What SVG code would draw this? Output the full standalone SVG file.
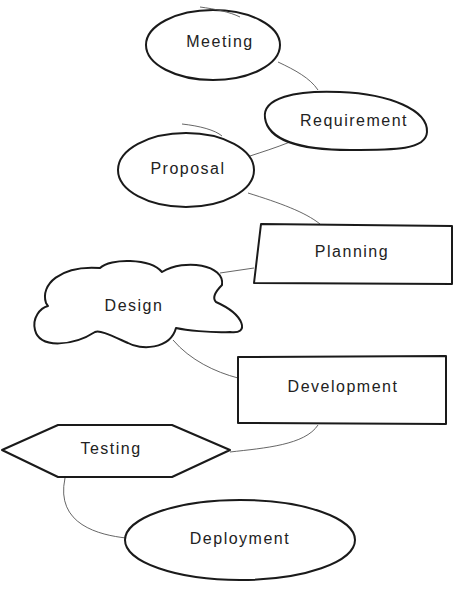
<svg xmlns="http://www.w3.org/2000/svg" width="460" height="591" viewBox="0 0 460 591">
<style>
.shape{fill:#fff;stroke:#1a1a1a;stroke-width:2;stroke-linejoin:round}
.conn{fill:none;stroke:#555;stroke-width:0.9}
.lbl{font-family:"Liberation Sans",Arial,sans-serif;font-size:16px;fill:#222;text-anchor:middle;dominant-baseline:middle;letter-spacing:1.5px}
</style>
<rect width="460" height="591" fill="#fff"/>
<g id="connectors">
<path class="conn" d="M278,62 C295,70 310,78 318,90"/>
<path class="conn" d="M290,142 C275,148 262,152 250,156"/>
<path class="conn" d="M248,193 C280,203 305,212 320,224"/>
<path class="conn" d="M254,268 L220,273"/>
<path class="conn" d="M173,340 C190,360 215,372 238,378"/>
<path class="conn" d="M318,425 C305,445 265,448 230,452"/>
<path class="conn" d="M65,478 C55,525 100,535 126,538"/>
</g>
<g id="meeting">
<ellipse class="shape" cx="213" cy="45" rx="67" ry="35"/>
<path class="conn" d="M200,7 C215,9 230,12 240,17"/>
<text class="lbl" x="220" y="43">Meeting</text>
</g>
<g id="requirement">
<path class="shape" d="M265,118 C262,98 295,90 340,92 C390,94 428,110 427,132 C426,150 395,150 350,150 C300,150 268,140 265,118 Z"/>
<text class="lbl" x="354" y="122">Requirement</text>
</g>
<g id="proposal">
<ellipse class="shape" cx="186" cy="170" rx="68" ry="37"/>
<path class="conn" d="M182,124 C200,126 215,130 222,136"/>
<text class="lbl" x="188" y="170">Proposal</text>
</g>
<g id="planning">
<path class="shape" d="M261,224 L452,226 L452,284 L254,283 Z"/>
<text class="lbl" x="352" y="253">Planning</text>
</g>
<g id="design">
<path class="shape" d="M46,303 C40,285 60,265 100,268 C110,258 150,258 162,272 C185,258 225,265 222,285 C215,292 212,298 216,302 C245,315 250,335 230,332 C210,333 185,330 176,328 C170,350 140,350 128,343 C110,335 100,330 95,332 C75,345 40,350 35,330 C32,318 40,308 48,306 Z"/>
<text class="lbl" x="134" y="307">Design</text>
</g>
<g id="development">
<path class="shape" d="M238,357 L446,356 L446,424 L238,423 Z"/>
<text class="lbl" x="343" y="388">Development</text>
</g>
<g id="testing">
<path class="shape" d="M2,450 L58,425 L172,425 L230,450 L172,477 L58,477 Z"/>
<text class="lbl" x="111" y="450">Testing</text>
</g>
<g id="deployment">
<ellipse class="shape" cx="240" cy="540" rx="115" ry="40"/>
<text class="lbl" x="240" y="540">Deployment</text>
</g>
</svg>
